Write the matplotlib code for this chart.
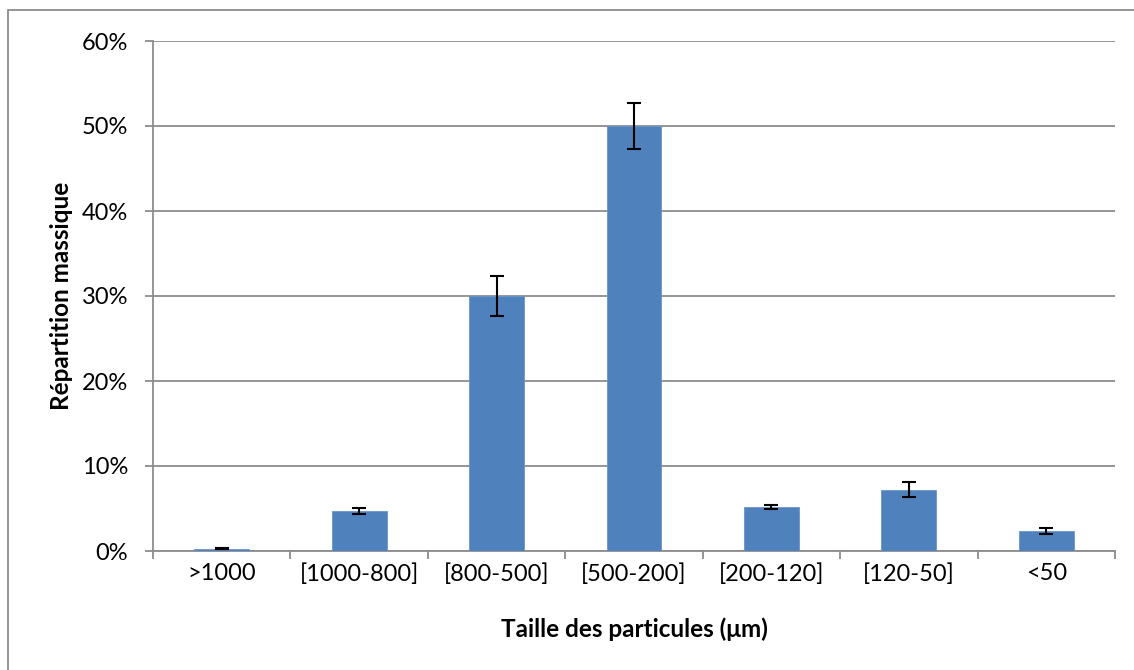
import matplotlib
matplotlib.use("Agg")
import matplotlib.pyplot as plt
from matplotlib.patches import Rectangle
from matplotlib.ticker import FixedLocator, PercentFormatter

# particle size classes and mass distribution (%)
categories = [">1000", "[1000-800]", "[800-500]", "[500-200]", "[200-120]", "[120-50]", "<50"]
values = [0.25, 4.7, 30.0, 50.0, 5.2, 7.2, 2.3]
errors = [0.05, 0.37, 2.37, 2.7, 0.26, 0.86, 0.35]

plt.rcParams['font.family'] = ['Lato', 'DejaVu Sans']

fig = plt.figure(figsize=(11.34, 6.70), dpi=100)
ax = fig.add_axes([153 / 1134, 1 - 551 / 670, (1115 - 153) / 1134, (551 - 41) / 670])

# outer chart border (only left/top visible in the original)
fig.patches.append(Rectangle((8 / 1134, -0.1), 1.2, 1 - 10 / 670 + 0.1, transform=fig.transFigure,
                             fill=False, edgecolor='#8c8c8c', linewidth=1.3))

x = range(len(categories))
ax.bar(x, values, width=0.4, color='#4f81bd', edgecolor='#6b95c8', linewidth=0.6, zorder=3,
       yerr=errors, error_kw=dict(ecolor='black', elinewidth=1.5, capsize=5, capthick=1.5, zorder=4))

ax.set_xlim(-0.5, len(categories) - 0.5)
ax.set_ylim(0, 60)
ax.set_yticks(range(0, 61, 10))
ax.yaxis.set_major_formatter(PercentFormatter(decimals=0))
ax.yaxis.grid(True, color='#8c8c8c', linewidth=1.3, zorder=0)

ax.set_xticks(list(x))
ax.set_xticklabels(categories)
ax.xaxis.set_minor_locator(FixedLocator([i - 0.5 for i in range(len(categories) + 1)]))
ax.tick_params(axis='x', which='major', length=0, pad=9, labelsize=17)
ax.tick_params(axis='x', which='minor', length=6, width=1.3, color='#8c8c8c')
ax.tick_params(axis='y', length=6, width=1.3, color='#8c8c8c', labelsize=17, pad=12)

for side in ['top', 'right']:
    ax.spines[side].set_visible(False)
for side in ['left', 'bottom']:
    ax.spines[side].set_color('#8c8c8c')
    ax.spines[side].set_linewidth(1.3)

ax.set_xlabel('Taille des particules (μm)', fontsize=17.5, fontweight='bold', labelpad=23)
ax.set_ylabel('Répartition massique', fontsize=17.5, fontweight='bold', labelpad=6)

fig.savefig('out.png', dpi=100)
